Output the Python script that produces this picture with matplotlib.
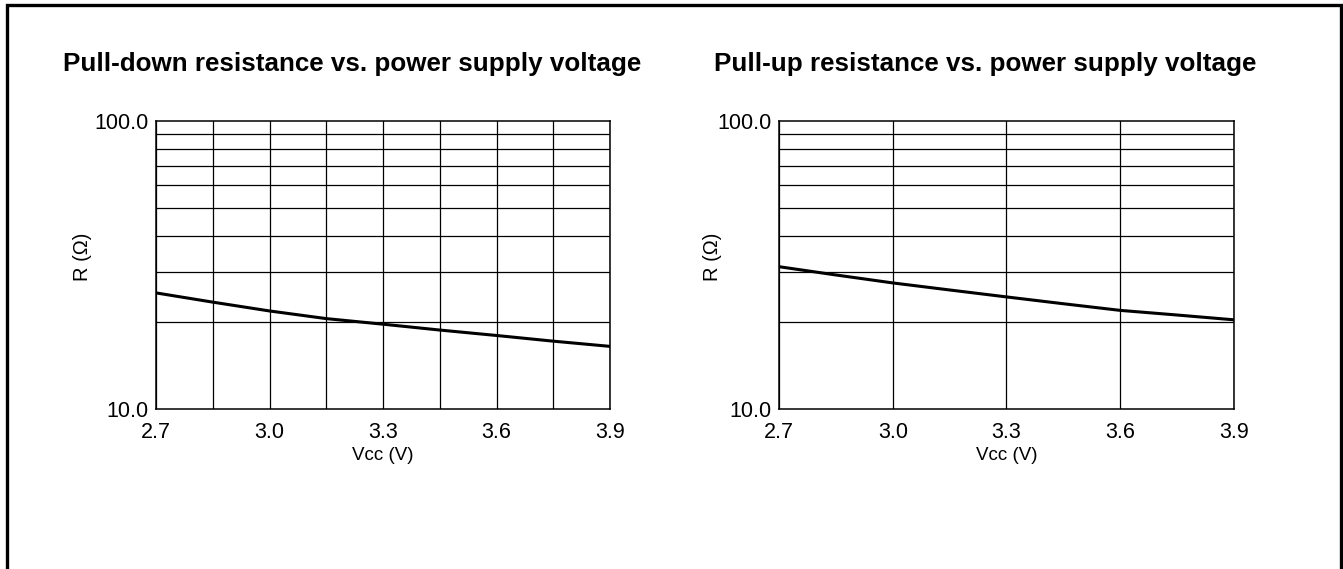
import matplotlib.pyplot as plt
from matplotlib.patches import Rectangle

plt.rcParams['font.family'] = ['Liberation Sans', 'DejaVu Sans']

# supply voltage (V)
vcc = [2.70, 2.85, 3.00, 3.15, 3.30, 3.45, 3.60, 3.75, 3.90]
# pull-down resistance (ohm)
r_down = [25.3, 23.5, 21.9, 20.6, 19.7, 18.8, 18.0, 17.2, 16.5]
# pull-up resistance (ohm)
r_up = [31.2, 29.2, 27.4, 25.9, 24.5, 23.2, 22.0, 21.2, 20.4]

x_ticks = [2.7, 3.0, 3.3, 3.6, 3.9]
x_labels = ['2.7', '3.0', '3.3', '3.6', '3.9']
y_ticks = [10, 100]
y_labels = ['10.0', '100.0']
y_minor = [20, 30, 40, 50, 60, 70, 80, 90]

fig = plt.figure(figsize=(13.43, 5.69), dpi=100)

# outer frame, open at the bottom edge
fig.patches.append(Rectangle((6.5 / 1343, -0.05), 1334 / 1343, 1.05 - 4.5 / 569,
                             transform=fig.transFigure, fill=False,
                             edgecolor='black', linewidth=2.4, clip_on=False))


def setup(ax, x_grid, ylab_x):
    ax.set_yscale('log')
    ax.set_xlim(2.7, 3.9)
    ax.set_ylim(10, 100)
    ax.set_xticks(x_ticks)
    ax.set_xticklabels(x_labels)
    ax.set_yticks(y_ticks)
    ax.set_yticklabels(y_labels)
    ax.set_yticks(y_minor, minor=True)
    ax.set_yticklabels([], minor=True)
    ax.set_xticks(x_grid, minor=True)
    ax.tick_params(which='both', length=0, labelsize=15.5)
    ax.tick_params(axis='x', pad=9)
    ax.tick_params(axis='y', pad=5.5)
    ax.grid(True, which='both', color='black', linewidth=0.9)
    ax.grid(False, which='major', axis='y')
    for s in ax.spines.values():
        s.set_linewidth(1.1)
    ax.set_xlabel('Vcc (V)', fontsize=13.5, labelpad=3)
    ax.set_ylabel('R (Ω)', fontsize=14.5)
    ax.yaxis.set_label_coords(ylab_x, 0.53)


ax1 = fig.add_axes([156 / 1343, 1 - 409 / 569, 454 / 1343, 288 / 569])
setup(ax1, [2.85, 3.15, 3.45, 3.75], -0.14)
ax1.plot(vcc, r_down, color='black', linewidth=2.2)

ax2 = fig.add_axes([779 / 1343, 1 - 409 / 569, 455 / 1343, 288 / 569])
setup(ax2, [], -0.125)
ax2.plot(vcc, r_up, color='black', linewidth=2.2)

fig.text(352 / 1343, 1 - 64 / 569, 'Pull-down resistance vs. power supply voltage',
         ha='center', va='center', fontsize=18.7, fontweight='bold')
fig.text(985 / 1343, 1 - 64 / 569, 'Pull-up resistance vs. power supply voltage',
         ha='center', va='center', fontsize=18.7, fontweight='bold')

fig.savefig('out.png', dpi=100)
